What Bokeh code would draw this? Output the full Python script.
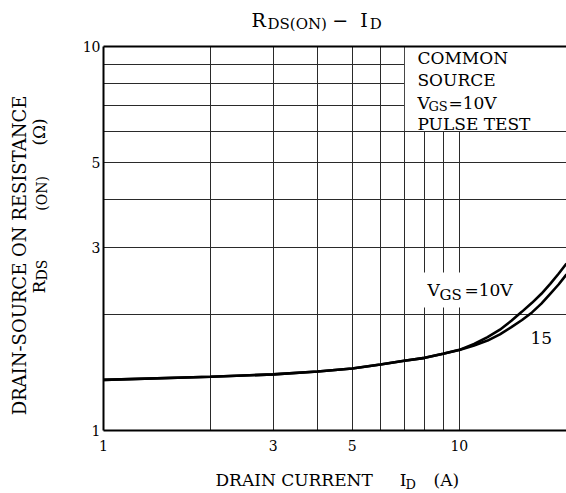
from bokeh.plotting import figure
from bokeh.models import (Range1d, FixedTicker, LogAxis, Label, BoxAnnotation,
                          PrintfTickFormatter)
from bokeh.embed import file_html
from bokeh.resources import INLINE

# ---- data ----
ID = [1, 2, 3, 4, 5, 6, 7, 8, 9, 10, 11, 12, 13, 14, 15, 16, 17, 18, 19, 20]
R_VGS10 = [1.355, 1.38, 1.40, 1.424, 1.45, 1.486, 1.52, 1.546, 1.584, 1.622,
           1.68, 1.75, 1.83, 1.93, 2.04, 2.15, 2.27, 2.41, 2.56, 2.72]
R_VGS15 = [1.355, 1.38, 1.40, 1.424, 1.45, 1.486, 1.52, 1.546, 1.584, 1.620,
           1.665, 1.715, 1.78, 1.858, 1.94, 2.03, 2.14, 2.27, 2.40, 2.55]
X_TICKS = [1, 3, 5, 10]
Y_TICKS = [1, 3, 5, 10]
X_GRID = [2, 3, 4, 5, 6, 7, 8, 9, 10]
Y_GRID = [2, 3, 4, 5, 6, 7, 8, 9]

SERIF = "DejaVu Serif"
NB = "\u00a0"

p = figure(width=566, height=493, x_axis_type="log", y_axis_type="log",
           x_range=Range1d(1, 20), y_range=Range1d(1, 10),
           output_backend="svg", toolbar_location=None,
           min_border_left=103, min_border_right=0, min_border_top=46,
           min_border_bottom=63)
p.outline_line_color = None
p.background_fill_color = "white"
p.border_fill_color = "white"

# grid
p.xgrid.ticker = FixedTicker(ticks=X_GRID)
p.ygrid.ticker = FixedTicker(ticks=Y_GRID)
for g in (p.xgrid, p.ygrid):
    g.grid_line_color = "#2a2a2a"
    g.grid_line_width = 1

# axes
for ax in (p.xaxis, p.yaxis):
    ax.axis_line_width = 2
    ax.axis_line_color = "black"
    ax.major_tick_in = 0
    ax.major_tick_out = 0
    ax.minor_tick_in = 0
    ax.minor_tick_out = 0
    ax.major_label_text_font = SERIF
    ax.major_label_text_font_size = "14px"
    ax.major_label_text_color = "black"
    ax.formatter = PrintfTickFormatter(format="%d")
p.xaxis.ticker = FixedTicker(ticks=X_TICKS)
p.yaxis.ticker = FixedTicker(ticks=Y_TICKS)
p.xaxis.major_label_standoff = 9
p.yaxis.major_label_standoff = 3

top_axis = LogAxis(ticker=FixedTicker(ticks=[]), axis_line_width=2,
                   axis_line_color="black", major_tick_in=0, major_tick_out=0,
                   minor_tick_in=0, minor_tick_out=0,
                   major_label_text_font_size="0px")
p.add_layout(top_axis, "above")


# helpers: reference-page pixel -> data coordinate (for text placement)
def dx(px):
    return 10 ** ((px - 103) / 355.9)


def dy(py):
    return 10 ** ((430 - py) / 384)


# white areas behind the condition texts (cover grid lines)
p.add_layout(BoxAnnotation(left=7 * 1.004, right=20, bottom=6 * 1.004, top=10,
                           fill_color="white", fill_alpha=1, line_color=None,
                           level="underlay"))
p.add_layout(BoxAnnotation(left=dx(421), right=dx(518), bottom=dy(307), top=dy(272),
                           fill_color="white", fill_alpha=1, line_color=None,
                           level="underlay"))

# curves
p.line(ID, R_VGS10, line_width=2.6, line_color="black")
p.line(ID, R_VGS15, line_width=2.6, line_color="black")

SHIFT = 8  # measured baseline offset of rendered labels


def lab(px, py, text, size, angle=0, align="left", baseline="alphabetic",
        place="center"):
    if baseline == "alphabetic":
        if angle == 0:
            py -= SHIFT
        else:
            px -= SHIFT
    lbl = Label(x=dx(px), y=dy(py), text=text, text_font=SERIF,
                text_font_size=f"{size}px", text_color="black",
                text_align=align, text_baseline=baseline, angle=angle,
                level="overlay")
    if place == "center":
        p.add_layout(lbl)
    else:
        p.add_layout(lbl, place)


# box conditions
lab(417, 65, "COMMON", 17)
lab(417, 87, "SOURCE", 17)
lab(417, 110, "V", 17)
lab(428, 114, "GS", 13)
lab(448, 110, "=10V", 17)
lab(417, 131, "PULSE TEST", 17)

# curve labels
lab(427, 297, "V", 17)
lab(439, 302, "GS", 15)
lab(464, 297, "=10V", 17)
lab(530, 345, "15", 17)

# title  R_DS(ON) - I_D  (texts outside the frame live in side panels)
lab(251, 27, "R" + NB * 11 + "\u2212" + NB * 2 + "I", 19, place="above")
lab(267, 31, "DS(ON)" + NB * 9 + "D", 15, place="above")

# x axis title
lab(215, 487, "DRAIN CURRENT" + NB * 5 + "I" + NB * 5 + "(A)", 17, place="below")
lab(405, 492, "D", 13, place="left")

# y axis title (rotated)
ROT = 1.5707963
lab(19, 255, "DRAIN-SOURCE ON RESISTANCE", 18, angle=ROT, align="center",
    baseline="middle", place="left")
lab(46, 293, "R" + NB * 25 + "(\u03a9)", 17, angle=ROT, place="left")
lab(49, 280, "DS" + NB * 11 + "(ON)", 14, angle=ROT, place="left")

open("out.html", "w").write(file_html(p, INLINE))
